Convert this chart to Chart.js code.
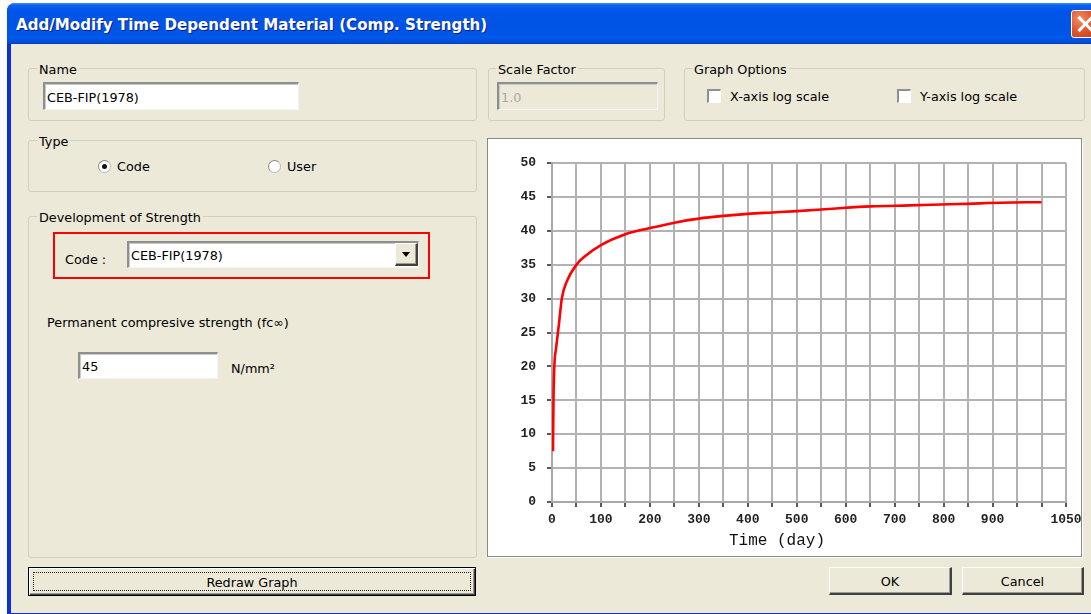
<!DOCTYPE html>
<html><head><meta charset="utf-8">
<script src="https://cdn.jsdelivr.net/npm/chart.js@4.4.1/dist/chart.umd.min.js"></script>
<style>
html,body{margin:0;padding:0;width:1091px;height:614px;overflow:hidden;background:#fff;font-family:"DejaVu Sans",sans-serif;font-size:12.8px;color:#000;}
.a{position:absolute;white-space:nowrap;line-height:15px;}
#frame{position:absolute;left:7px;top:3px;width:1100px;height:620px;background:#0831D9;border-radius:8px 8px 0 0;}
#titlebar{position:absolute;left:7px;top:3px;width:1100px;height:41px;border-radius:8px 8px 0 0;
 background:linear-gradient(to bottom,#3a8cff 0%,#0a62f0 6%,#0055e8 20%,#0053e3 60%,#0058ea 85%,#004ed8 95%,#003dc7 100%);}
#titletext{position:absolute;left:16px;top:16px;color:#fff;font-weight:bold;font-size:15.1px;line-height:18px;text-shadow:1px 1px 0 #0a1e8c;white-space:nowrap;}
#close{position:absolute;left:1071px;top:10px;width:26px;height:26px;border:1px solid #fff;border-radius:3px;
 background:radial-gradient(circle at 30% 30%,#f0906a 0%,#e2582e 45%,#c8380f 100%);}
#close:before,#close:after{content:"";position:absolute;left:12px;top:3px;width:3px;height:20px;background:#fff;}
#close:before{transform:rotate(45deg);} #close:after{transform:rotate(-45deg);}
#client{position:absolute;left:11px;top:44px;width:1090px;height:569px;background:#ECE9D8;}
.grp{position:absolute;border:1px solid #D0D0BF;border-radius:3px;}
.glab{position:absolute;background:#ECE9D8;padding:0 2px;line-height:15px;white-space:nowrap;}
.inp{position:absolute;background:#fff;box-sizing:border-box;border-style:solid;border-width:2px 1px 1px 2px;border-color:#8f8f8f #f4f4f4 #f4f4f4 #8f8f8f;box-shadow:inset 1px 1px 0 #c9c9c9;}
.inp span{position:absolute;left:2px;top:50%;transform:translateY(-50%);line-height:15px;white-space:nowrap;}
.chk{position:absolute;width:14px;height:14px;box-sizing:border-box;background:#fff;border-style:solid;border-width:2px 1px 1px 2px;border-color:#8f8f8f #fff #fff #8f8f8f;}
.rad{position:absolute;width:13px;height:13px;border-radius:50%;box-sizing:border-box;background:#fff;border:1px solid #b8b8b8;border-top-color:#8a8a8a;border-left-color:#8a8a8a;}
.btn{position:absolute;box-sizing:border-box;background:#ECE9D8;border-style:solid;border-width:1px 2px 2px 1px;border-color:#fff #404040 #404040 #fff;box-shadow:inset -1px -1px 0 #9d9a8f;}
.btn span{position:absolute;left:0;right:0;top:50%;transform:translateY(-50%);text-align:center;line-height:15px;}
#chartpanel{position:absolute;left:487px;top:138px;width:595px;height:419px;box-sizing:border-box;border:1px solid #8a8a8a;background:#fff;box-shadow:1px 1px 0 #fff;}
#cv{position:absolute;left:488px;top:139px;}
</style></head>
<body>
<div id="frame"></div>
<div id="titlebar"></div>
<div id="titletext">Add/Modify Time Dependent Material (Comp. Strength)</div>
<div id="close"></div>
<div id="client"></div>

<!-- Name -->
<div class="grp" style="left:28px;top:68px;width:447px;height:51px;"></div>
<div class="glab" style="left:37px;top:62px;">Name</div>
<div class="inp" style="left:43px;top:82px;width:256px;height:28px;"><span>CEB-FIP(1978)</span></div>

<!-- Type -->
<div class="grp" style="left:28px;top:140px;width:447px;height:50px;"></div>
<div class="glab" style="left:37px;top:134px;">Type</div>
<div class="rad" style="left:98px;top:160px;"><div style="position:absolute;left:3px;top:3px;width:5px;height:5px;border-radius:50%;background:#111;"></div></div>
<div class="a" style="left:117px;top:159px;">Code</div>
<div class="rad" style="left:268px;top:160px;"></div>
<div class="a" style="left:287px;top:159px;">User</div>

<!-- Development of Strength -->
<div class="grp" style="left:28px;top:216px;width:447px;height:340px;"></div>
<div class="glab" style="left:37px;top:210px;">Development of Strength</div>
<div class="a" style="left:53px;top:232px;width:373px;height:43px;border:2px solid #f00;"></div>
<div class="a" style="left:65px;top:252px;">Code :</div>
<div class="inp" style="left:127px;top:241px;width:292px;height:27px;"><span>CEB-FIP(1978)</span>
 <div style="position:absolute;right:0;top:0;width:23px;height:23px;box-sizing:border-box;background:#ECE9D8;border-style:solid;border-width:1px 2px 2px 1px;border-color:#fff #404040 #404040 #fff;box-shadow:inset -1px -1px 0 #9d9a8f;">
  <div style="position:absolute;left:6px;top:8px;width:0;height:0;border-left:4px solid transparent;border-right:4px solid transparent;border-top:5px solid #000;"></div>
 </div></div>
<div class="a" style="left:47px;top:315px;">Permanent compresive strength (fc∞)</div>
<div class="inp" style="left:78px;top:352px;width:140px;height:27px;"><span>45</span></div>
<div class="a" style="left:231px;top:361px;">N/mm²</div>

<!-- Scale Factor -->
<div class="grp" style="left:488px;top:68px;width:175px;height:51px;"></div>
<div class="glab" style="left:496px;top:62px;">Scale Factor</div>
<div class="inp" style="left:497px;top:82px;width:161px;height:28px;background:#ECE9D8;"><span style="color:#a8a8a8;">1.0</span></div>

<!-- Graph Options -->
<div class="grp" style="left:684px;top:68px;width:399px;height:51px;"></div>
<div class="glab" style="left:692px;top:62px;">Graph Options</div>
<div class="chk" style="left:707px;top:89px;"></div>
<div class="a" style="left:730px;top:89px;">X-axis log scale</div>
<div class="chk" style="left:897px;top:89px;"></div>
<div class="a" style="left:920px;top:89px;">Y-axis log scale</div>

<!-- Chart panel -->
<div id="chartpanel"></div>
<canvas id="cv" width="593" height="417"></canvas>

<!-- Buttons -->
<div class="btn" style="left:28px;top:567px;width:448px;height:29px;border:1px solid #000;box-shadow:inset 1px 1px 0 #fff,inset -1px -1px 0 #404040,inset -2px -2px 0 #9d9a8f;">
 <div style="position:absolute;left:4px;top:4px;right:4px;bottom:4px;border:1px dotted #222;"></div>
 <span>Redraw Graph</span></div>
<div class="btn" style="left:829px;top:567px;width:123px;height:28px;"><span>OK</span></div>
<div class="btn" style="left:962px;top:567px;width:122px;height:28px;"><span>Cancel</span></div>

<script>
// ---- data ----
const days = [2, 3, 5, 8, 12, 15, 20, 30, 50, 70, 100, 150, 200, 250, 300, 350, 400, 450, 500, 580, 650, 730, 830, 970, 1000];
const strength = [7.5, 15, 20.4, 22.5, 24.9, 26.8, 30, 32.5, 35, 36.4, 37.9, 39.5, 40.4, 41.2, 41.8, 42.2, 42.5, 42.7, 42.9, 43.3, 43.6, 43.75, 43.95, 44.2, 44.2];
const xTickValues = [0, 50, 100, 150, 200, 250, 300, 350, 400, 450, 500, 550, 600, 650, 700, 750, 800, 850, 900, 950, 1000, 1050];
const xTickLabels = ['0', '', '100', '', '200', '', '300', '', '400', '', '500', '', '600', '', '700', '', '800', '', '900', '', '', '1050'];
const yTickValues = [0, 5, 10, 15, 20, 25, 30, 35, 40, 45, 50];
const xTitle = 'Time (day)';

const points = days.map((d, i) => ({x: d, y: strength[i]}));
const tickFont = {family: "'Liberation Mono', 'DejaVu Sans Mono', monospace", size: 13, weight: 'bold'};
const gridStyle = {color: '#b2b2b2', lineWidth: 2, drawTicks: true, tickLength: 5, tickColor: '#222', tickWidth: 1.5};

new Chart(document.getElementById('cv'), {
  type: 'line',
  data: {datasets: [{data: points, borderColor: '#ff0000', borderWidth: 2.6, pointRadius: 0, fill: false, tension: 0.3, cubicInterpolationMode: 'monotone'}]},
  options: {
    responsive: false, animation: false, events: [],
    layout: {padding: {top: 24, right: 15, left: 0, bottom: 0}},
    plugins: {
      legend: {display: false}, tooltip: {enabled: false},
      title: {display: true, position: 'bottom', text: xTitle, color: '#111',
        font: {family: "'Liberation Mono', 'DejaVu Sans Mono', monospace", size: 16, weight: 'normal', lineHeight: 1.2},
        padding: {top: 0, bottom: 6}}
    },
    scales: {
      x: {type: 'linear', min: 0, max: 1050,
        afterBuildTicks: s => { s.ticks = xTickValues.map(v => ({value: v})); },
        afterFit: s => { s.height = 28.8; s.paddingLeft = 0; s.paddingRight = 0; },
        ticks: {autoSkip: false, maxRotation: 0, minRotation: 0, padding: 5, color: '#222', font: tickFont,
          callback: (v) => { const i = xTickValues.indexOf(v); return i >= 0 ? xTickLabels[i] : ''; }},
        grid: gridStyle,
        border: {display: true, color: '#a8a8a8', width: 2}
      },
      y: {type: 'linear', min: 0, max: 50,
        afterBuildTicks: s => { s.ticks = yTickValues.map(v => ({value: v})); },
        afterFit: s => { s.width = 64; },
        ticks: {autoSkip: false, padding: 11, color: '#222', font: tickFont},
        grid: gridStyle,
        border: {display: true, color: '#a8a8a8', width: 2}
      }
    }
  }
});
</script>
</body></html>
